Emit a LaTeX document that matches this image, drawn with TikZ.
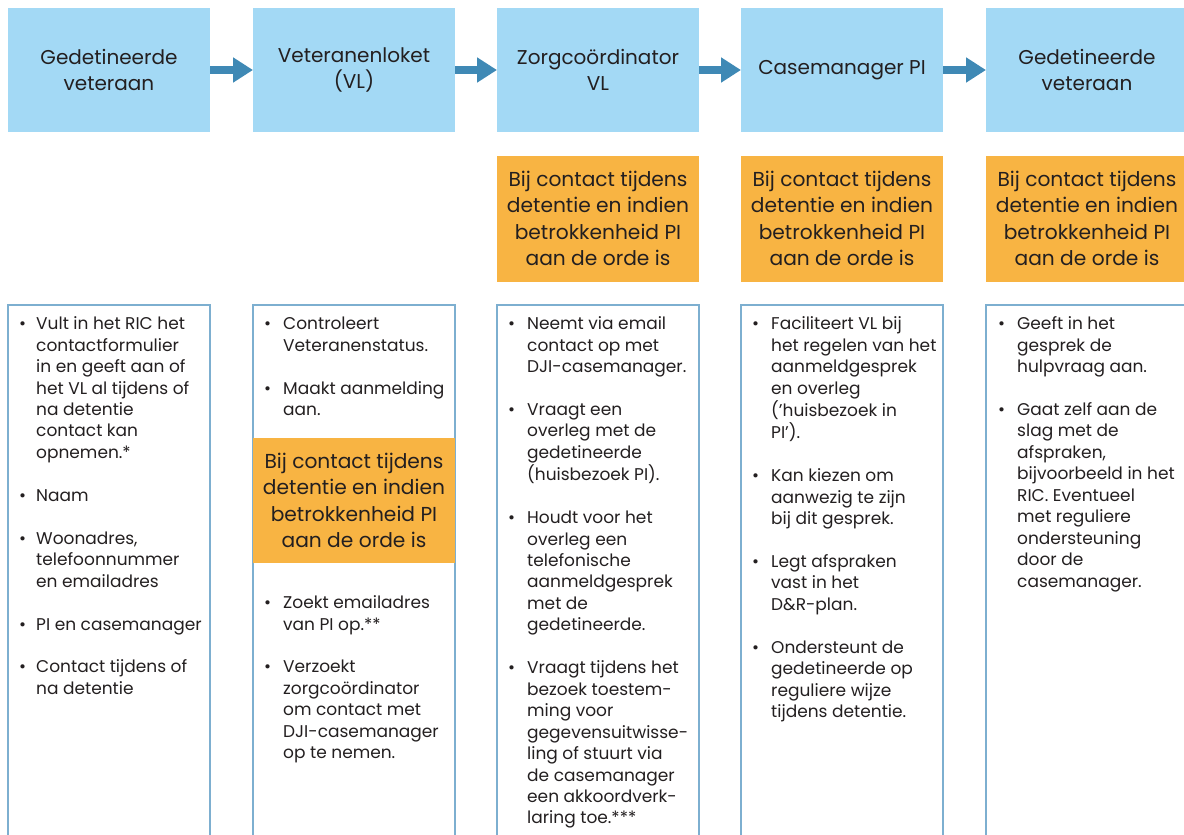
\documentclass[tikz,border=0pt]{standalone}
\usepackage{fontspec}
\setmainfont{Poppins}
\usetikzlibrary{arrows.meta}
\definecolor{topblue}{HTML}{A3D9F5}
\definecolor{orng}{HTML}{F8B443}
\definecolor{arrowblue}{HTML}{3F89B5}
\definecolor{edge}{HTML}{7DAFD0}
\definecolor{txt}{HTML}{231F20}
\begin{document}
\begin{tikzpicture}[x=1pt,y=-1pt,
 topbox/.style={fill=topblue, minimum width=202pt, minimum height=124pt, inner sep=0pt, outer sep=0pt, align=center, text=txt, font=\fontsize{20}{26.5}\selectfont},
 notebox/.style={fill=orng, minimum width=202pt, minimum height=126pt, inner sep=0pt, outer sep=0pt, align=center, text=txt, font=\fontsize{20.2}{26.3}\selectfont},
 listframe/.style={draw=edge, line width=1.3pt},
 listtext/.style={anchor=north west, inner sep=0pt, text=txt, font=\fontsize{17}{21.45}\selectfont},
 flow/.style={draw=arrowblue, line width=8pt, -{Triangle[length=20pt,width=24pt]}},
]
\useasboundingbox (0,0) rectangle (1184,835);
\clip (0,0) rectangle (1184,835);

% top row
\node[topbox] (t1) at (109,70) {Gedetineerde\\veteraan};
\node[topbox] (t2) at (354,70) {Veteranenloket\\(VL)};
\node[topbox] (t3) at (598,70) {Zorgcoördinator\\VL};
\node[topbox] (t4) at (842,70) {Casemanager PI};
\node[topbox] (t5) at (1087,70) {Gedetineerde\\veteraan};

\draw[flow] (t1) -- (t2);
\draw[flow] (t2) -- (t3);
\draw[flow] (t3) -- (t4);
\draw[flow] (t4) -- (t5);

% orange notes
\node[notebox] (n3) at (598,218.5) {Bij contact tijdens\\detentie en indien\\betrokkenheid PI\\aan de orde is};
\node[notebox] (n4) at (842,218.5) {Bij contact tijdens\\detentie en indien\\betrokkenheid PI\\aan de orde is};
\node[notebox] (n5) at (1087,218.5) {Bij contact tijdens\\detentie en indien\\betrokkenheid PI\\aan de orde is};

% list frames
\draw[listframe] (8,845) -- (8,305) -- (210,305) -- (210,845);
\draw[listframe] (253,845) -- (253,305) -- (455,305) -- (455,845);
\draw[listframe] (497,845) -- (497,305) -- (699,305) -- (699,845);
\draw[listframe] (741,845) -- (741,305) -- (943,305) -- (943,845);
\draw[listframe] (986,845) -- (986,305) -- (1190,305);

\node[notebox, minimum height=125pt] (n2) at (354,500.5) {Bij contact tijdens\\detentie en indien\\betrokkenheid PI\\aan de orde is};

% lists
\node[listtext] (l1) at (19,314.5) {\begin{tabular}{@{}p{17pt}@{}l@{}}
\textbullet & Vult in het RIC het\\
& contactformulier\\
& in en geeft aan of\\
& het VL al tijdens of\\
& na detentie\\
& contact kan\\
& opnemen.*\\
&\\
\textbullet & Naam\\
&\\
\textbullet & Woonadres,\\
& telefoonnummer\\
& en emailadres\\
&\\
\textbullet & PI en casemanager\\
&\\
\textbullet & Contact tijdens of\\
& na detentie
\end{tabular}};

\node[listtext] (l2a) at (264,314.5) {\begin{tabular}{@{}p{19pt}@{}l@{}}
\textbullet & Controleert\\
& Veteranenstatus.\\
&\\
\textbullet & Maakt aanmelding\\
& aan.
\end{tabular}};

\node[listtext] (l2b) at (264,593.35) {\begin{tabular}{@{}p{19pt}@{}l@{}}
\textbullet & Zoekt emailadres\\
& van PI op.**\\
&\\
\textbullet & Verzoekt\\
& zorgcoördinator\\
& om contact met\\
& DJI-casemanager\\
& op te nemen.
\end{tabular}};

\node[listtext] (l3) at (508,314.5) {\begin{tabular}{@{}p{19pt}@{}l@{}}
\textbullet & Neemt via email\\
& contact op met\\
& DJI-casemanager.\\
&\\
\textbullet & Vraagt een\\
& overleg met de\\
& gedetineerde\\
& (huisbezoek PI).\\
&\\
\textbullet & Houdt voor het\\
& overleg een\\
& telefonische\\
& aanmeldgesprek\\
& met de\\
& gedetineerde.\\
&\\
\textbullet & Vraagt tijdens het\\
& bezoek toestem-\\
& ming voor\\
& gegevensuitwisse-\\
& ling of stuurt via\\
& de casemanager\\
& een akkoordverk-\\
& laring toe.***
\end{tabular}};

\node[listtext] (l4) at (752,314.5) {\begin{tabular}{@{}p{19pt}@{}l@{}}
\textbullet & Faciliteert VL bij\\
& het regelen van het\\
& aanmeldgesprek\\
& en overleg\\
& (’huisbezoek in\\
& PI’).\\
&\\
\textbullet & Kan kiezen om\\
& aanwezig te zijn\\
& bij dit gesprek.\\
&\\
\textbullet & Legt afspraken\\
& vast in het\\
& D\&R-plan.\\
&\\
\textbullet & Ondersteunt de\\
& gedetineerde op\\
& reguliere wijze\\
& tijdens detentie.
\end{tabular}};

\node[listtext] (l5) at (998,314.5) {\begin{tabular}{@{}p{19pt}@{}l@{}}
\textbullet & Geeft in het\\
& gesprek de\\
& hulpvraag aan.\\
&\\
\textbullet & Gaat zelf aan de\\
& slag met de\\
& afspraken,\\
& bijvoorbeeld in het\\
& RIC. Eventueel\\
& met reguliere\\
& ondersteuning\\
& door de\\
& casemanager.
\end{tabular}};
\end{tikzpicture}
\end{document}
